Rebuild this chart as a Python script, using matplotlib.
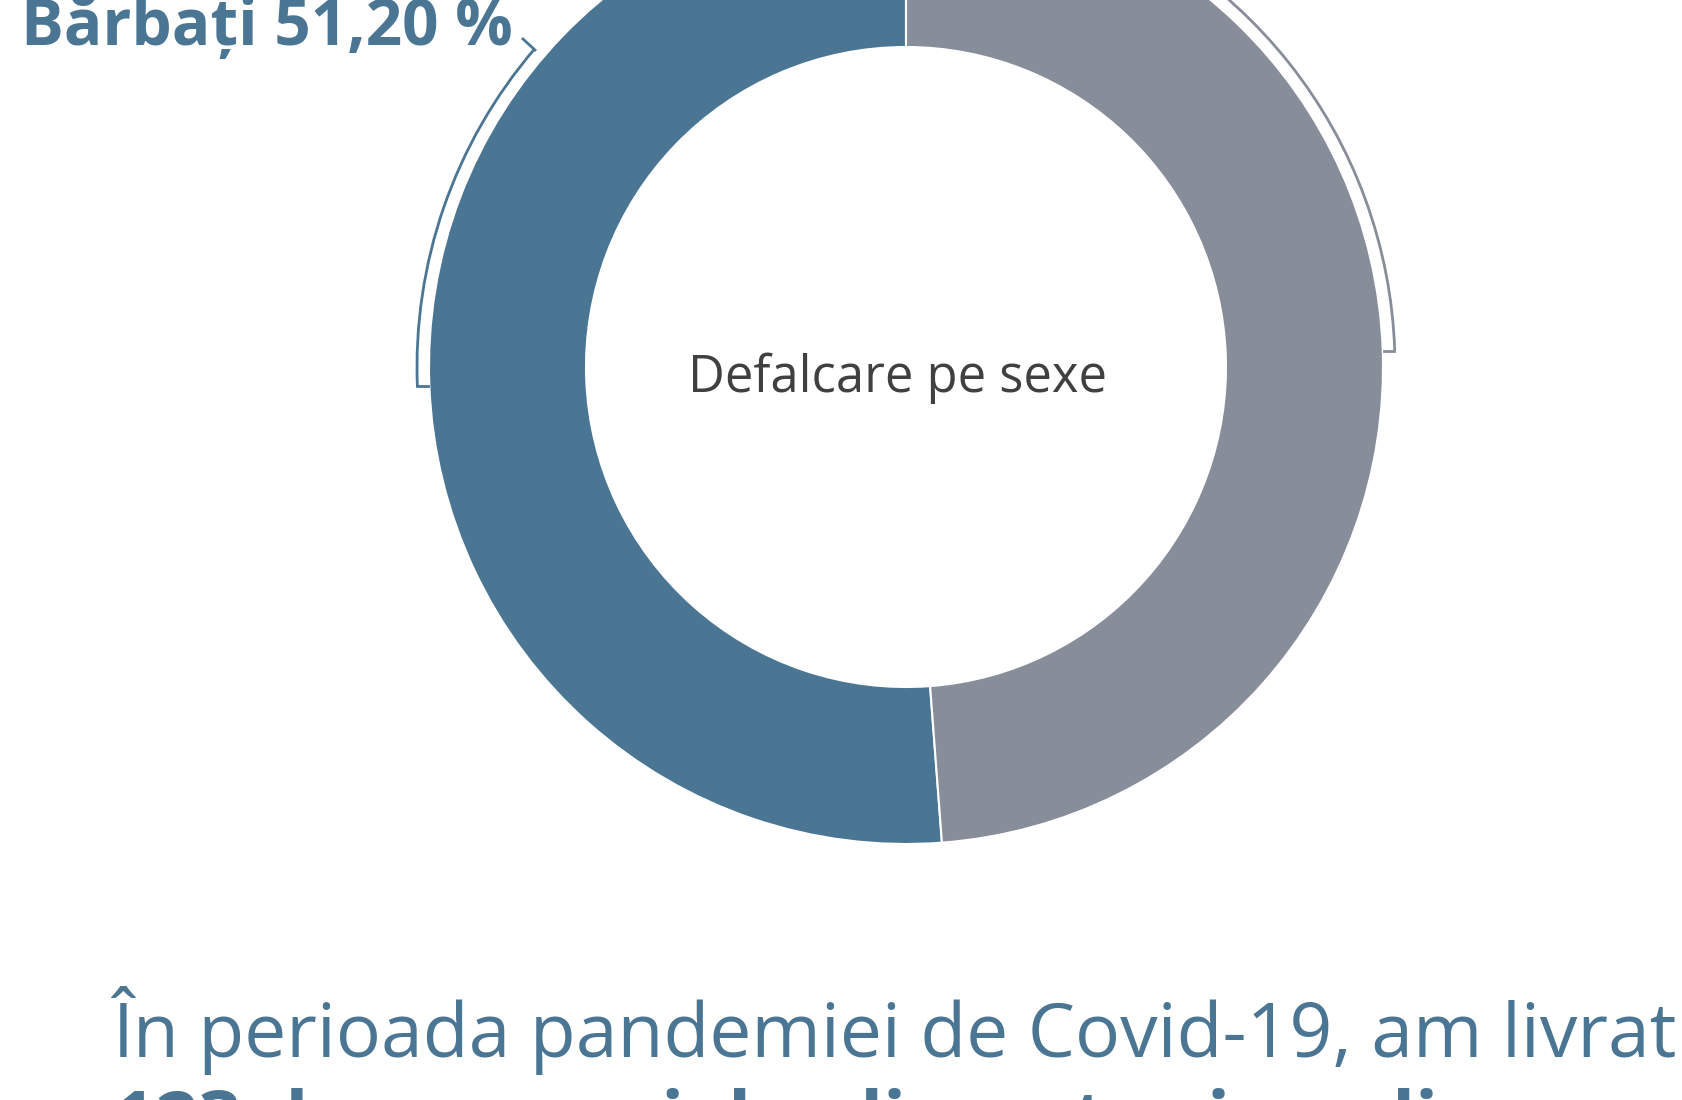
import matplotlib.pyplot as plt
from matplotlib.patches import Arc

# data
labels = ['Bărbați', 'Femei']
shares = [51.20, 48.80]
colors = ['#4a7694', '#878d99']
center_title = 'Defalcare pe sexe'
footer_line1 = 'În perioada pandemiei de Covid-19, am livrat'
footer_line2 = '123 de comenzi de alimente și medicamente'

plt.rcParams['font.family'] = ['Open Sans', 'DejaVu Sans']

W, H = 1682, 1100
fig = plt.figure(figsize=(W / 100, H / 100), dpi=100)
ax = fig.add_axes([0, 0, 1, 1])

# donut, pixel coordinates (y up)
cx, cy = 906, H - 367
R, ring = 477, 157
ax.pie(shares, colors=colors, startangle=90, counterclock=True,
       center=(cx, cy), radius=R,
       wedgeprops=dict(width=ring, edgecolor='white', linewidth=1.5))
ax.set_xlim(0, W)
ax.set_ylim(0, H)
ax.set_aspect('equal')
ax.axis('off')

# bracket arcs outside the ring
rb = 489
ax.add_patch(Arc((cx, cy), 2 * rb, 2 * rb, theta1=139.5, theta2=182.3,
                 color=colors[0], lw=2))
ax.add_patch(Arc((cx, cy), 2 * rb, 2 * rb, theta1=1.9, theta2=75,
                 color=colors[1], lw=2))
ax.plot([cx - rb, cx - R - 1], [cy - 19, cy - 19], color=colors[0], lw=2)
ax.plot([cx + rb - 1, cx + R + 1], [cy + 16, cy + 16], color=colors[1], lw=2)
# leader to label
ax.plot([535, 523], [H - 50, H - 39], color=colors[0], lw=2)

ax.text(21, H - 45, f'{labels[0]} {shares[0]:.2f} %'.replace('.', ','),
        fontsize=46, fontweight='bold', color=colors[0],
        ha='left', va='baseline')

ax.text(898, H - 392, center_title, fontsize=36.5, color='#404040',
        ha='center', va='baseline')

ax.text(113, H - 1057, footer_line1, fontsize=54, color=colors[0],
        ha='left', va='baseline')
ax.text(113, H - 1145, footer_line2, fontsize=54, fontweight='bold',
        color=colors[0], ha='left', va='baseline')

fig.savefig('out.png', dpi=100, facecolor='white')
